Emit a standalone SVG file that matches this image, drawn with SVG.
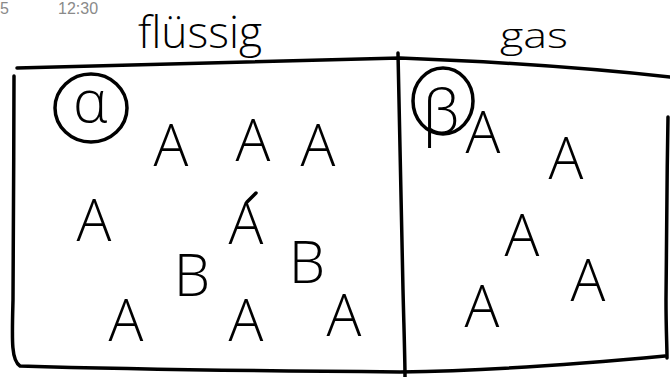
<svg xmlns="http://www.w3.org/2000/svg" width="670" height="377" viewBox="0 0 670 377">
<style>
.ink{fill:none;stroke:#000;stroke-width:3.5;stroke-linecap:round;stroke-linejoin:round}
.t{font-family:"Open Sans","DejaVu Sans",sans-serif;font-weight:350;fill:#000;text-anchor:middle}
.big{font-size:58px}
.hdr{font-family:"Liberation Sans",sans-serif;font-size:16px;fill:#8a8a8a}
</style>
<rect width="670" height="377" fill="#fff"/>
<g id="header">
<text class="hdr" x="0" y="14">5</text>
<text class="hdr" x="58" y="14">12:30</text>
</g>
<g id="frame">
<path class="ink" d="M17,68 C120,65 250,61 400,58 C480,61 580,67 670,77"/>
<path class="ink" d="M14,76 C14,150 13,250 13,300 C12,340 11,360 20,366 C120,369 260,371 400,372 C480,371 580,364 665,356"/>
<path class="ink" d="M398,53 C399,120 401,200 403,290 C404,330 405,360 405,377"/>
<path class="ink" d="M668,117 C667,180 666,250 666,300 C666,330 667,345 667,358"/>
</g>
<g id="labels">
<text class="t" x="200" y="48" font-size="44" textLength="124" lengthAdjust="spacingAndGlyphs">flüssig</text>
<text class="t" x="534" y="48" font-size="34" textLength="68" lengthAdjust="spacingAndGlyphs">gas</text>
</g>
<g id="alpha">
<ellipse class="ink" cx="91" cy="108" rx="36" ry="34"/>
<text class="t" x="90" y="122" font-size="58">α</text>
</g>
<g id="beta">
<ellipse class="ink" cx="443" cy="101" rx="30" ry="33"/>
<text class="t" x="441" y="133" font-size="60">β</text>
</g>
<g id="liquid-particles">
<text class="t big" x="171" y="166">A</text>
<text class="t big" x="253" y="161">A</text>
<text class="t big" x="318" y="166">A</text>
<text class="t big" x="94" y="241">A</text>
<text class="t big" x="246" y="244">A</text>
<path class="ink" d="M247,202 L256,193"/>
<text class="t big" x="192" y="296">B</text>
<text class="t big" x="307" y="283">B</text>
<text class="t big" x="126" y="341">A</text>
<text class="t big" x="246" y="341">A</text>
<text class="t big" x="344" y="336">A</text>
</g>
<g id="gas-particles">
<text class="t big" x="483" y="153">A</text>
<text class="t big" x="566" y="179">A</text>
<text class="t big" x="522" y="256">A</text>
<text class="t big" x="588" y="301">A</text>
<text class="t big" x="482" y="327">A</text>
</g>
</svg>
